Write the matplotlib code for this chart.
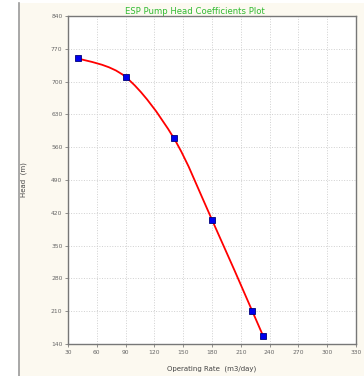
import numpy as np
import matplotlib.pyplot as plt
from matplotlib.patches import Rectangle, PathPatch
from matplotlib.lines import Line2D
from matplotlib.path import Path

# pump test points
rate = [40, 90, 140, 180, 222, 233]      # m3/day
head = [750, 710, 580, 405, 210, 158]    # m

xticks = [30, 60, 90, 120, 150, 180, 210, 240, 270, 300, 330]
yticks = [140, 210, 280, 350, 420, 490, 560, 630, 700, 770, 840]

fig = plt.figure(figsize=(3.64, 3.76), dpi=100)
fig.patch.set_facecolor('white')

# cream panel with a grey left edge
fig.add_artist(Rectangle((19/364, 0), 1, 1 - 3/376, transform=fig.transFigure,
                         facecolor='#fcf9f0', edgecolor='none', zorder=-10))
fig.add_artist(Line2D([19/364, 19/364], [0, 1 - 3/376], transform=fig.transFigure,
                      color='#9a9a9a', lw=1.2, zorder=-5))

ax = fig.add_axes([68/364, 1 - 344/376, 288/364, 328/376])
ax.set_facecolor('white')

# smooth curve through the points (catmull-rom as bezier segments)
pts = np.column_stack([rate, head]).astype(float)
ext = np.vstack([pts[0], pts, pts[-1]])
verts = [pts[0]]
codes = [Path.MOVETO]
for i in range(1, len(ext) - 2):
    p0, p1, p2, p3 = ext[i - 1], ext[i], ext[i + 1], ext[i + 2]
    verts += [p1 + (p2 - p0) / 6, p2 - (p3 - p1) / 6, p2]
    codes += [Path.CURVE4] * 3
ax.add_patch(PathPatch(Path(verts, codes), facecolor='none', edgecolor='red',
                       lw=1.3, zorder=3))
ax.plot(rate, head, 's', color='#0000ee', markeredgecolor='#00007a',
        markeredgewidth=0.6, markersize=5, zorder=4)

ax.set_xlim(30, 330)
ax.set_ylim(140, 840)
ax.set_xticks(xticks)
ax.set_yticks(yticks)
ax.tick_params(labelsize=4.3, colors='#666666', length=2, width=0.5, pad=2)
ax.grid(True, linestyle=':', color='#d0d0d0', lw=0.7)
for s in ax.spines.values():
    s.set_color('#777777')
    s.set_linewidth(1.0)

# title sits a bit left of centre, just touching the frame
fig.text(195/364, 1 - 12/376, 'ESP Pump Head Coefficients Plot', color='#33bb33',
         fontsize=6.1, ha='center', va='center')
ax.set_xlabel('Operating Rate  (m3/day)', fontsize=5, color='#444444')
ax.set_ylabel('Head  (m)', fontsize=5, color='#444444')
ax.xaxis.set_label_coords(0.5, -0.065)
ax.yaxis.set_label_coords(-41/288, 0.5)

fig.savefig('out.png', dpi=100)
